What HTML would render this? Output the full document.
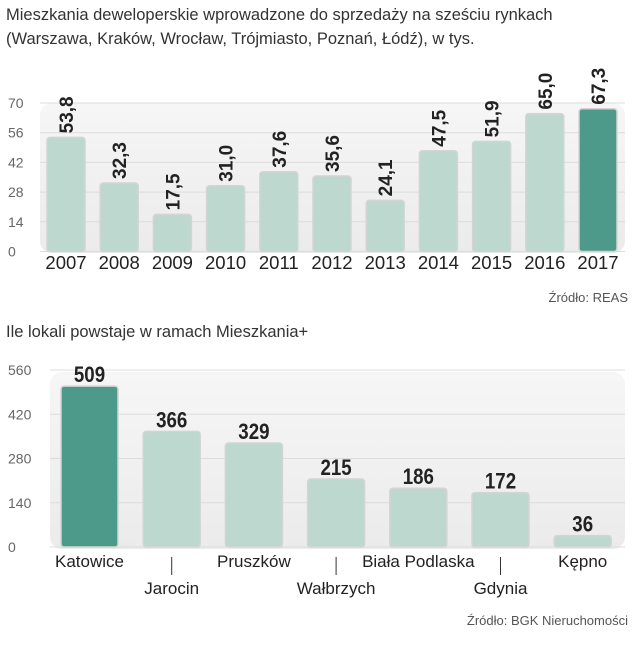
<!DOCTYPE html>
<html><head><meta charset="utf-8"><style>
body{margin:0;background:#fff;width:640px;height:640px;overflow:hidden;font-family:"Liberation Sans",sans-serif}
</style></head><body>
<svg id="c" width="640" height="640" xmlns="http://www.w3.org/2000/svg" font-family="Liberation Sans, sans-serif">
<defs>
<linearGradient id="pg" x1="0" y1="0" x2="0" y2="1"><stop offset="0" stop-color="#f6f6f6"/><stop offset="1" stop-color="#ebebeb"/></linearGradient>
</defs>
<text x="6" y="20" font-size="16.5" fill="#333">Mieszkania deweloperskie wprowadzone do sprzedaży na sześciu rynkach</text>
<text x="6" y="44" font-size="16.5" fill="#333">(Warszawa, Kraków, Wrocław, Trójmiasto, Poznań, Łódź), w tys.</text>
<rect x="40" y="103" width="585" height="150" rx="12" fill="url(#pg)"/>
<g id="topg"></g>
<text x="628" y="302" font-size="13" fill="#555" text-anchor="end">Źródło: REAS</text>
<text x="6" y="337" font-size="16.5" fill="#333">Ile lokali powstaje w ramach Mieszkania+</text>
<rect x="50" y="372" width="575" height="177" rx="12" fill="url(#pg)"/>
<g id="botg"></g>
<text x="628" y="625" font-size="13" fill="#555" text-anchor="end">Źródło: BGK Nieruchomości</text>
</svg>
<script>
const years=["2007","2008","2009","2010","2011","2012","2013","2014","2015","2016","2017"];
const supply=[53.8,32.3,17.5,31.0,37.6,35.6,24.1,47.5,51.9,65.0,67.3];
const topTicks=[0,14,28,42,56,70];
const cities=["Katowice","Jarocin","Pruszków","Wałbrzych","Biała Podlaska","Gdynia","Kępno"];
const units=[509,366,329,215,186,172,36];
const botTicks=[0,140,280,420,560];
const NS="http://www.w3.org/2000/svg";
function mk(p,t,a){const e=document.createElementNS(NS,t);for(const k in a)e.setAttribute(k,a[k]);p.appendChild(e);return e;}
const LIGHT="#bdd8cf",DARK="#4e9a8a";
const topG=document.getElementById('topg');
const ty=v=>251.5-v*(148.5/70);
const tx=i=>47+i*53.2;
topTicks.forEach(t=>{
 const l=mk(topG,'line',{x1:40,x2:625,y1:ty(t),y2:ty(t),stroke:'#dcdcdc','stroke-width':1});
 
 
 const tt=mk(topG,'text',{x:8,y:ty(t)+5,'font-size':14,fill:'#666'});tt.textContent=t;
 
 
});
years.forEach((y,i)=>{
 const v=supply[i],x=tx(i),last=i===years.length-1;
 const r=mk(topG,'rect',{x:x,y:ty(v),width:38,height:ty(0)-ty(v),rx:3,fill:last?DARK:LIGHT,stroke:'#d4d4d4','stroke-width':1.5});
 
 
 const lab=mk(topG,'text',{x:x+19,y:269,'font-size':18.5,fill:'#222','text-anchor':'middle'});lab.textContent=y;
 
 
 const vy=ty(v)-4;
 const vl=mk(topG,'text',{x:0,y:0,'font-size':19,'font-weight':'bold',fill:'#222',transform:`translate(${x+26},${vy}) rotate(-90)`});
 vl.textContent=v.toFixed(1).replace('.',',');
 
 
});
const botG=document.getElementById('botg');
const by=v=>547-v*(177/560);
const bx=i=>61+i*82.2;
botTicks.forEach(t=>{
 const l=mk(botG,'line',{x1:50,x2:625,y1:by(t),y2:by(t),stroke:'#dcdcdc','stroke-width':1});
 
 
 const tt=mk(botG,'text',{x:8,y:by(t)+5,'font-size':14,fill:'#666'});tt.textContent=t;
 
 
});
cities.forEach((c,i)=>{
 const v=units[i],x=bx(i);
 const slug=c.toLowerCase().replace(/ /g,'-');
 const r=mk(botG,'rect',{x:x,y:by(v),width:57,height:by(0)-by(v),rx:3,fill:i===0?DARK:LIGHT,stroke:'#d4d4d4','stroke-width':1.5});
 
 
 const vl=mk(botG,'text',{x:0,y:0,'font-size':22,'font-weight':'bold',fill:'#222','text-anchor':'middle',transform:`translate(${x+28.5},${by(v)-4}) scale(0.85,1)`});
 vl.textContent=v;
 
 
 const low=i%2===1;
 if(low){const tk=mk(botG,'line',{x1:x+28.5,x2:x+28.5,y1:557,y2:575,stroke:'#333','stroke-width':1});
  
  }
 const lab=mk(botG,'text',{x:x+28.5,y:low?594:567,'font-size':17,fill:'#222','text-anchor':'middle'});lab.textContent=c;
 
 
});
</script>
</body></html>
